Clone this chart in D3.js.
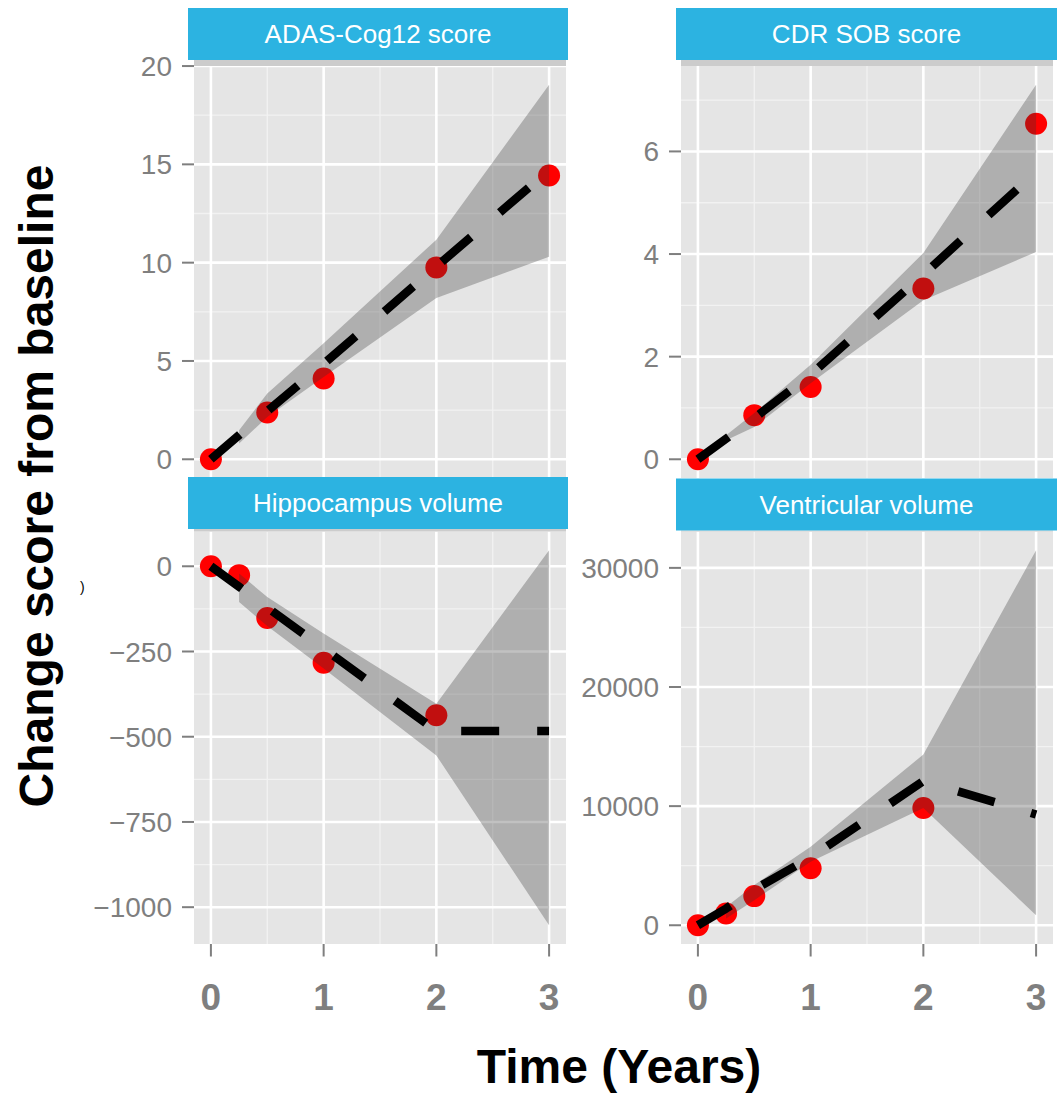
<!DOCTYPE html>
<html><head><meta charset="utf-8">
<script src="https://cdn.jsdelivr.net/npm/d3@7"></script>
<style>body{margin:0;background:#fff}svg{display:block}</style>
</head><body>
<svg id="c" width="1057" height="1097"></svg>
<script>
// ---------------- DATA ----------------
const panelTitles = ["ADAS-Cog12 score", "CDR SOB score", "Hippocampus volume", "Ventricular volume"];
const xTicks = [0, 1, 2, 3];
const xTickLabels = ["0", "1", "2", "3"];
const xTitle = "Time (Years)";
const yTitle = "Change score from baseline";

// ADAS-Cog12
const adasObsTime = [0, 0.5, 1, 2, 3];
const adasObs = [0, 2.38, 4.11, 9.76, 14.43];
const adasFitTime = [0, 0.5, 1, 2, 3];
const adasFit = [0, 2.45, 4.85, 9.8, 14.7];
const adasBandTime = [0.25, 0.5, 1, 2, 3];
const adasLower = [0.8, 2.15, 4.19, 8.2, 10.3];
const adasUpper = [1.47, 3.35, 5.9, 11.17, 19.05];
const adasYTicks = [0, 5, 10, 15, 20];
const adasYLabels = ["0", "5", "10", "15", "20"];

// CDR SOB
const cdrObsTime = [0, 0.5, 1, 2, 3];
const cdrObs = [0, 0.86, 1.41, 3.33, 6.54];
const cdrFitTime = [0, 0.5, 1, 2, 3];
const cdrFit = [0, 0.8, 1.65, 3.6, 5.6];
const cdrBandTime = [0.25, 0.5, 1, 2, 3];
const cdrLower = [0.37, 0.63, 1.48, 3.1, 4.04];
const cdrUpper = [0.47, 0.9, 1.84, 4.02, 7.3];
const cdrYTicks = [0, 2, 4, 6];
const cdrYLabels = ["0", "2", "4", "6"];

// Hippocampus volume
const hipObsTime = [0, 0.25, 0.5, 1, 2];
const hipObs = [0, -26, -152, -283, -437];
const hipFitTime = [0, 0.25, 0.5, 1, 2, 3];
const hipFit = [0, -60, -121, -241, -483, -483];
const hipBandTime = [0.25, 0.5, 1, 2, 3];
const hipLower = [-105, -175, -300, -555, -1053];
const hipUpper = [-21, -90, -197, -403, 47];
const hipYTicks = [0, -250, -500, -750, -1000];
const hipYLabels = ["0", "\u2212250", "\u2212500", "\u2212750", "\u22121000"];

// Ventricular volume
const venObsTime = [0, 0.25, 0.5, 1, 2];
const venObs = [0, 985, 2445, 4780, 9840];
const venFitTime = [0, 0.25, 0.5, 1, 2, 3];
const venFit = [0, 1400, 3000, 5700, 12100, 9300];
const venBandTime = [0.25, 0.5, 1, 2, 3];
const venLower = [560, 2100, 5340, 9840, 840];
const venUpper = [1540, 3370, 6600, 14330, 31480];
const venYTicks = [0, 10000, 20000, 30000];
const venYLabels = ["0", "10000", "20000", "30000"];

// ---------------- BUILD ----------------
const zip2 = (a, b) => a.map((v, i) => ({t: v, v: b[i]}));
const zipBand = (t, lo, hi) => t.map((v, i) => ({t: v, lo: lo[i], hi: hi[i]}));

const panels = [
  {title: panelTitles[0], obs: zip2(adasObsTime, adasObs), fit: zip2(adasFitTime, adasFit),
   band: zipBand(adasBandTime, adasLower, adasUpper), yTicks: adasYTicks, yLabels: adasYLabels},
  {title: panelTitles[1], obs: zip2(cdrObsTime, cdrObs), fit: zip2(cdrFitTime, cdrFit),
   band: zipBand(cdrBandTime, cdrLower, cdrUpper), yTicks: cdrYTicks, yLabels: cdrYLabels},
  {title: panelTitles[2], obs: zip2(hipObsTime, hipObs), fit: zip2(hipFitTime, hipFit),
   band: zipBand(hipBandTime, hipLower, hipUpper), yTicks: hipYTicks, yLabels: hipYLabels},
  {title: panelTitles[3], obs: zip2(venObsTime, venObs), fit: zip2(venFitTime, venFit),
   band: zipBand(venBandTime, venLower, venUpper), yTicks: venYTicks, yLabels: venYLabels}
];

// layout (pixels)
const layout = [
  {x0: 194, x1: 566, y0: 66, y1: 478, sx0: 188, sx1: 568, sy0: 8, sy1: 60, xAxis: false},
  {x0: 681, x1: 1053, y0: 66, y1: 478, sx0: 676, sx1: 1060, sy0: 8, sy1: 60, xAxis: false},
  {x0: 194, x1: 566, y0: 531.5, y1: 944, sx0: 188, sx1: 568, sy0: 477, sy1: 529, xAxis: true},
  {x0: 681, x1: 1053, y0: 531.5, y1: 944, sx0: 676, sx1: 1060, sy0: 478.5, sy1: 530.5, xAxis: true}
];

const FONT = "'Liberation Sans', Arial, Helvetica, sans-serif";
const AXIS_GREY = "#7F7F7F";
const svg = d3.select("#c");
const defs = svg.append("defs");

const xDomainRaw = [0, 3];
const xPad = (xDomainRaw[1] - xDomainRaw[0]) * 0.05;

panels.forEach((p, i) => {
  const L = layout[i];
  const g = svg.append("g");

  const x = d3.scaleLinear().domain([xDomainRaw[0] - xPad, xDomainRaw[1] + xPad]).range([L.x0, L.x1]);
  const allY = [].concat(p.obs.map(d => d.v), p.fit.map(d => d.v), p.band.map(d => d.lo), p.band.map(d => d.hi));
  const ext = d3.extent(allY);
  const yPad = (ext[1] - ext[0]) * 0.05;
  const y = d3.scaleLinear().domain([ext[0] - yPad, ext[1] + yPad]).range([L.y1, L.y0]);

  // background
  g.append("rect").attr("x", L.x0).attr("y", L.y0).attr("width", L.x1 - L.x0).attr("height", L.y1 - L.y0)
    .attr("fill", "#E5E5E5");

  // minor grid
  const yStep = p.yTicks.length > 1 ? Math.abs(p.yTicks[1] - p.yTicks[0]) : 1;
  const ySorted = p.yTicks.slice().sort((a, b) => a - b);
  const yMinor = [];
  for (let k = -1; k < ySorted.length; k++) {
    const base = k < 0 ? ySorted[0] - yStep : ySorted[k];
    const m = base + yStep / 2;
    const [d0, d1] = y.domain();
    if (m > d0 && m < d1) yMinor.push(m);
  }
  const xMinor = [0.5, 1.5, 2.5];
  g.selectAll(".ymin").data(yMinor).join("line")
    .attr("x1", L.x0).attr("x2", L.x1).attr("y1", d => y(d)).attr("y2", d => y(d))
    .attr("stroke", "#F2F2F2").attr("stroke-width", 1.3);
  g.selectAll(".xmin").data(xMinor).join("line")
    .attr("y1", L.y0).attr("y2", L.y1).attr("x1", d => x(d)).attr("x2", d => x(d))
    .attr("stroke", "#F2F2F2").attr("stroke-width", 1.3);
  // major grid
  g.selectAll(".ymaj").data(p.yTicks).join("line")
    .attr("x1", L.x0).attr("x2", L.x1).attr("y1", d => y(d)).attr("y2", d => y(d))
    .attr("stroke", "#FFFFFF").attr("stroke-width", 2.6);
  g.selectAll(".xmaj").data(xTicks).join("line")
    .attr("y1", L.y0).attr("y2", L.y1).attr("x1", d => x(d)).attr("x2", d => x(d))
    .attr("stroke", "#FFFFFF").attr("stroke-width", 2.6);

  // clip
  const cid = "clip" + i;
  defs.append("clipPath").attr("id", cid).append("rect")
    .attr("x", L.x0).attr("y", L.y0).attr("width", L.x1 - L.x0).attr("height", L.y1 - L.y0);
  const pg = g.append("g").attr("clip-path", `url(#${cid})`);

  // points
  pg.selectAll("circle").data(p.obs).join("circle")
    .attr("cx", d => x(d.t)).attr("cy", d => y(d.v)).attr("r", 11).attr("fill", "#FF0000");
  // ribbon
  const area = d3.area().x(d => x(d.t)).y0(d => y(d.lo)).y1(d => y(d.hi));
  pg.append("path").datum(p.band).attr("d", area).attr("fill", "#333333").attr("fill-opacity", 0.3);
  // fitted dashed line
  const line = d3.line().x(d => x(d.t)).y(d => y(d.v));
  pg.append("path").datum(p.fit).attr("d", line).attr("fill", "none").attr("stroke", "#000")
    .attr("stroke-width", 8.5).attr("stroke-dasharray", "38,38").attr("stroke-linejoin", "round");

  // y axis
  g.selectAll(".ytick").data(p.yTicks).join("line")
    .attr("x1", L.x0 - 12).attr("x2", L.x0).attr("y1", d => y(d)).attr("y2", d => y(d))
    .attr("stroke", AXIS_GREY).attr("stroke-width", 2);
  g.selectAll(".ylab").data(p.yTicks).join("text")
    .attr("x", L.x0 - 22).attr("y", d => y(d) + 10)
    .attr("text-anchor", "end").attr("font-family", FONT).attr("font-size", 28)
    .attr("fill", AXIS_GREY).text((d, k) => p.yLabels[k]);

  // x axis
  if (L.xAxis) {
    g.selectAll(".xtick").data(xTicks).join("line")
      .attr("x1", d => x(d)).attr("x2", d => x(d)).attr("y1", L.y1).attr("y2", L.y1 + 12.5)
      .attr("stroke", AXIS_GREY).attr("stroke-width", 2);
    g.selectAll(".xlab").data(xTicks).join("text")
      .attr("x", d => x(d)).attr("y", 1010)
      .attr("text-anchor", "middle").attr("font-family", FONT).attr("font-size", 37)
      .attr("font-weight", "bold").attr("fill", AXIS_GREY).text((d, k) => xTickLabels[k]);
  }

  // strip band + strip
  g.append("rect").attr("x", L.x0).attr("y", L.sy1).attr("width", L.x1 - L.x0).attr("height", L.y0 - L.sy1)
    .attr("fill", "#CCCCCC");
  g.append("rect").attr("x", L.sx0).attr("y", L.sy0).attr("width", L.sx1 - L.sx0).attr("height", L.sy1 - L.sy0)
    .attr("fill", "#2CB3E1");
  g.append("text").attr("x", (L.sx0 + Math.min(L.sx1, 1057)) / 2).attr("y", (L.sy0 + L.sy1) / 2 + 9.4)
    .attr("text-anchor", "middle").attr("font-family", FONT).attr("font-size", 26)
    .attr("fill", "#FFFFFF").text(p.title);
});

// axis titles
svg.append("text").attr("x", 619).attr("y", 1083).attr("text-anchor", "middle")
  .attr("font-family", FONT).attr("font-size", 48).attr("font-weight", "bold").attr("fill", "#000")
  .text(xTitle);
svg.append("text").attr("transform", "translate(53,486) rotate(-90)").attr("text-anchor", "middle")
  .attr("font-family", FONT).attr("font-size", 48).attr("font-weight", "bold").attr("fill", "#000")
  .text(yTitle);
// small stray glyph seen in the reference
svg.append("text").attr("x", 80).attr("y", 592).attr("font-family", FONT).attr("font-size", 14)
  .attr("fill", "#000").text(")");
</script>
</body></html>
